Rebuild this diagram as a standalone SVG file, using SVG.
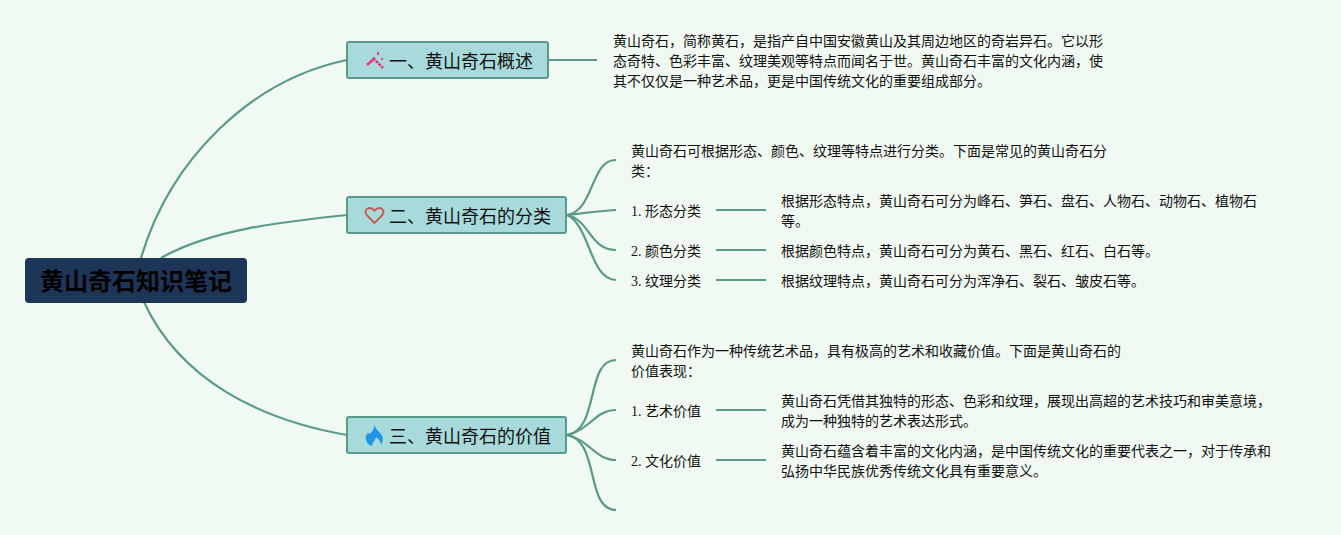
<svg xmlns="http://www.w3.org/2000/svg" width="1341" height="535" viewBox="0 0 1341 535">
<style>
text{font-family:"Liberation Serif","Noto Sans CJK SC",sans-serif;font-size:14px;fill:#111}
.z{font-family:"Liberation Sans","Noto Sans CJK SC",sans-serif}
.h{font-family:"Liberation Sans","Noto Sans CJK SC",sans-serif;font-size:18px}
.r{font-family:"Liberation Sans","Noto Sans CJK SC",sans-serif;font-size:24px;font-weight:700;fill:#000}
.b{fill:#a8dadc;stroke:#5a9a8a;stroke-width:2}
.c{fill:none;stroke:#5a9a8a;stroke-width:2.200}
</style>
<rect width="1341" height="535" fill="#f0faf2"/>
<g id="connectors">
<path class="c" d="M141 258C170 160 250 80 347 60"/>
<path class="c" d="M161 258C210 230 280 222 347 215"/>
<path class="c" d="M144 302C180 380 260 420 347 435"/>
<path class="c" d="M548 60H597"/>
<path class="c" d="M567 215C595 210 590 160 616 160"/>
<path class="c" d="M567 215C585 213 600 211 616 210"/>
<path class="c" d="M567 215C590 220 590 250 616 250"/>
<path class="c" d="M567 215C590 225 590 280 616 280"/>
<path class="c" d="M716 210H766"/><path class="c" d="M716 250H766"/><path class="c" d="M716 280H766"/>
<path class="c" d="M567 435C600 430 585 360 616 360"/>
<path class="c" d="M567 435C590 430 595 410 616 410"/>
<path class="c" d="M567 435C590 440 595 460 616 460"/>
<path class="c" d="M567 435C600 440 585 510 616 510"/>
<path class="c" d="M716 410H766"/><path class="c" d="M716 460H766"/>
</g>
<g id="root"><rect x="25" y="258" width="222" height="45" rx="4" fill="#1d3557"/><text class="r" x="136" y="290" text-anchor="middle">黄山奇石知识笔记</text></g>
<g id="n1"><rect class="b" x="347" y="42" width="201" height="36" rx="2"/>
<g stroke="#e0397a" stroke-width="2.600" fill="none"><path d="M367 65L375 58"/><path d="M373 58L383 68" stroke-dasharray="3 1"/></g>
<g stroke="#e0397a" stroke-width="1.800" fill="none"><path d="M378 52v3M382 58v2"/></g>
<text class="h" x="389" y="68">一、黄山奇石概述</text></g>
<g id="n2"><rect class="b" x="347" y="197" width="219" height="36" rx="2"/>
<path d="M374.500 223L367 215.500C363 210 369 205 374.500 210.500C380 205 386 210 382 215.500Z" fill="none" stroke="#c9554d" stroke-width="1.800"/>
<text class="h" x="389" y="223">二、黄山奇石的分类</text></g>
<g id="n3"><rect class="b" x="347" y="417" width="219" height="36" rx="2"/>
<path d="M374 424C376 430 379 431 381 434C384 438 383 442 381 445C381 441 378 439 376 437C376 440 372 442 372 446C368 445 365 441 366 436C367 433 369 432 370 434C372 431 375 429 374 424Z" fill="#2196e8"/>
<text class="h" x="389" y="443">三、黄山奇石的价值</text></g>
<g id="t1" class="z"><text x="613" y="46">黄山奇石，简称黄石，是指产自中国安徽黄山及其周边地区的奇岩异石。它以形</text><text x="613" y="66">态奇特、色彩丰富、纹理美观等特点而闻名于世。黄山奇石丰富的文化内涵，使</text><text x="613" y="86">其不仅仅是一种艺术品，更是中国传统文化的重要组成部分。</text></g>
<g id="t2"><text x="631" y="156">黄山奇石可根据形态、颜色、纹理等特点进行分类。下面是常见的黄山奇石分</text><text x="631" y="176">类：</text></g>
<g id="t21"><text x="631" y="216">1. 形态分类</text></g>
<g id="t22"><text x="631" y="256">2. 颜色分类</text></g>
<g id="t23"><text x="631" y="286">3. 纹理分类</text></g>
<g id="t211"><text x="781" y="206">根据形态特点，黄山奇石可分为峰石、笋石、盘石、人物石、动物石、植物石</text><text x="781" y="226">等。</text></g>
<g id="t221"><text x="781" y="256">根据颜色特点，黄山奇石可分为黄石、黑石、红石、白石等。</text></g>
<g id="t231"><text x="781" y="286">根据纹理特点，黄山奇石可分为浑净石、裂石、皱皮石等。</text></g>
<g id="t3"><text x="631" y="356">黄山奇石作为一种传统艺术品，具有极高的艺术和收藏价值。下面是黄山奇石的</text><text x="631" y="376">价值表现：</text></g>
<g id="t31"><text x="631" y="416">1. 艺术价值</text></g>
<g id="t32"><text x="631" y="466">2. 文化价值</text></g>
<g id="t311"><text x="781" y="406">黄山奇石凭借其独特的形态、色彩和纹理，展现出高超的艺术技巧和审美意境，</text><text x="781" y="426">成为一种独特的艺术表达形式。</text></g>
<g id="t321"><text x="781" y="456">黄山奇石蕴含着丰富的文化内涵，是中国传统文化的重要代表之一，对于传承和</text><text x="781" y="476">弘扬中华民族优秀传统文化具有重要意义。</text></g>
</svg>
